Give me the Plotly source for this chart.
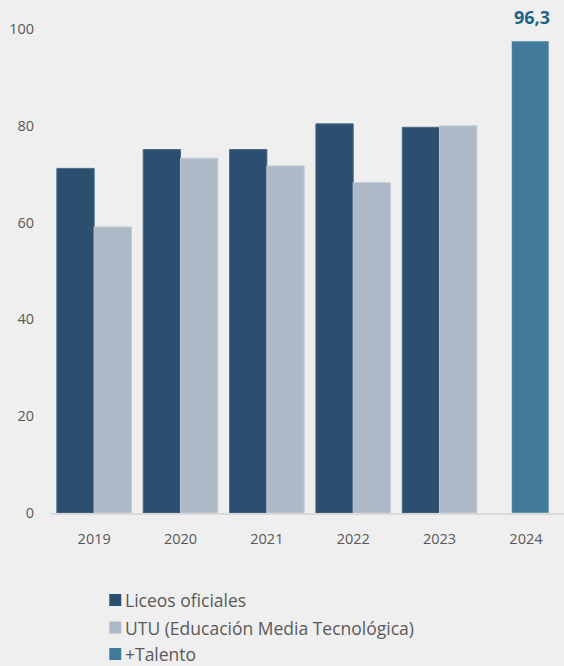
import plotly.graph_objects as go

years = ["2019", "2020", "2021", "2022", "2023", "2024"]
liceos_years = ["2019", "2020", "2021", "2022", "2023"]
liceos = [71.2, 75.1, 75.1, 80.4, 79.7]
utu = [59.1, 73.3, 71.7, 68.3, 80.0]
talento_years = ["2024"]
talento = [97.5]
talento_label = ["96,3"]
series_names = ["Liceos oficiales", "UTU (Educación Media Tecnológica)", "+Talento"]
colors = ["#2c4f70", "#adb9c6", "#427b9a"]

W, H = 564, 666
L, R, T, B = 50.7, 0, 29, 153
pw = W - L - R
ph = H - T - B
cat_px = 86.4

fig = go.Figure()
bw = 0.432
fig.add_bar(x=liceos_years, y=liceos, name=series_names[0], marker_color=colors[0],
            marker_line=dict(color="#4a6a88", width=1), width=bw, offset=-bw, showlegend=False)
fig.add_bar(x=liceos_years, y=utu, name=series_names[1], marker_color=colors[1],
            marker_line=dict(color="#c3ccd6", width=1), width=bw, offset=0, showlegend=False)
fig.add_bar(x=talento_years, y=talento, name=series_names[2], marker_color=colors[2],
            width=bw, offset=-bw / 2 + 0.05, showlegend=False)

for xv, yv, lab in zip(talento_years, talento, talento_label):
    fig.add_annotation(x=years.index(xv) + 0.07, y=yv, xref="x", yref="y",
                       text=f"<b>{lab}</b>", showarrow=False,
                       yanchor="bottom", yshift=10,
                       font=dict(size=18, color="#1d6388", family="Open Sans"))

# custom legend
leg_x_px = 109
leg_rows_px = [600, 627.5, 654]
for name, col, ypx in zip(series_names, colors, leg_rows_px):
    x0 = (leg_x_px - L) / pw
    x1 = (leg_x_px + 12 - L) / pw
    y0 = (H - B - (ypx + 6)) / ph
    y1 = (H - B - (ypx - 6)) / ph
    fig.add_shape(type="rect", xref="paper", yref="paper", x0=x0, x1=x1, y0=y0, y1=y1,
                  fillcolor=col, line=dict(width=0))
    fig.add_annotation(xref="paper", yref="paper", x=(leg_x_px + 14 - L) / pw,
                       y=(H - B - ypx) / ph, text=name, showarrow=False, xanchor="left",
                       yanchor="middle", font=dict(size=17.5, color="#595959", family="Open Sans"))

fig.update_layout(
    width=W, height=H,
    margin=dict(l=L, r=R, t=T, b=B),
    paper_bgcolor="#efefef", plot_bgcolor="#efefef",
    barmode="overlay",
    font=dict(family="Open Sans", color="#595959", size=14.5),
    showlegend=False,
)
fig.update_xaxes(type="category", categoryarray=years, categoryorder="array",
                 range=[-0.5, -0.5 + pw / cat_px], showline=True, linecolor="#d9d9d9",
                 linewidth=2, showgrid=False, ticks="", ticklabelstandoff=12, zeroline=False,
                 tickfont=dict(size=14.5, color="#595959"))
fig.update_yaxes(range=[0, 100], tickvals=[0, 20, 40, 60, 80, 100], showgrid=False,
                 zeroline=False, showline=False, ticks="", ticklabelstandoff=16,
                 tickfont=dict(size=14.5, color="#595959"))

fig.write_html("out.html", config={"displayModeBar": False},
               post_script="document.body.style.margin='0';document.body.style.overflow='hidden';")
